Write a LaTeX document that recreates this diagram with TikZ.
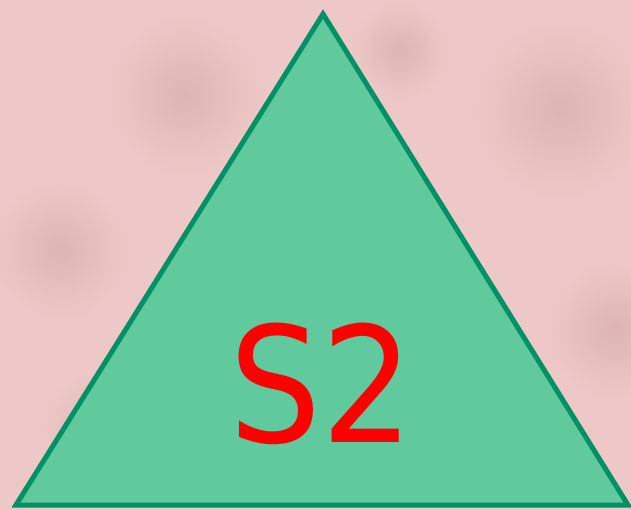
\documentclass[tikz,border=0pt]{standalone}
\usepackage{fontspec}
\setmainfont{DejaVu Sans}
\definecolor{bgpink}{RGB}{238,200,200}
\definecolor{bgdark}{RGB}{222,180,180}
\definecolor{trifill}{RGB}{96,201,158}
\definecolor{triline}{RGB}{0,146,98}
\tikzset{
  blob/.style={inner color=bgdark, outer color=bgpink},
  trishape/.style={draw=triline, fill=trifill, line width=5pt, line join=miter},
  bigtext/.style={text=red, font=\fontsize{161}{161}\selectfont, inner sep=0pt, anchor=base, xscale=0.9}
}
\begin{document}
\begin{tikzpicture}[x=1pt,y=-1pt]
% background
    \fill[bgpink] (0,0) rectangle (631,510);
    \useasboundingbox (0,0) rectangle (631,510);
    \shade[blob] (185,95) circle (80);
    \shade[blob] (60,250) circle (70);
    \shade[blob] (560,110) circle (90);
    \shade[blob] (615,330) circle (70);
    \shade[blob] (100,430) circle (60);
    \shade[blob] (400,50) circle (50);
% triangle corners
    \coordinate (apex) at (323,14);
    \coordinate (botleft) at (16,505);
    \coordinate (botright) at (628,505);
    \draw[trishape] (apex) -- (botright) -- (botleft) -- cycle;
% label
    \node[bigtext] (lbl) at (322,442) {S2};
\end{tikzpicture}
\end{document}
